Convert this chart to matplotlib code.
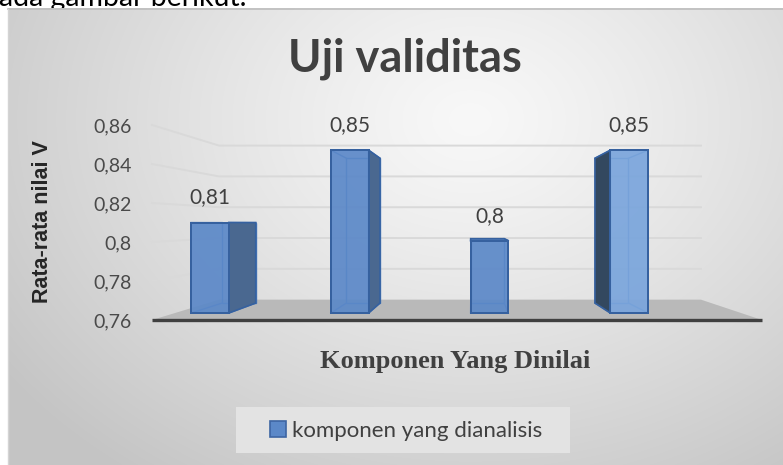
import numpy as np
import matplotlib
matplotlib.use("Agg")
import matplotlib.pyplot as plt
from matplotlib.patches import Polygon, Rectangle, Patch

# --- data ---
values = [0.81, 0.85, 0.80, 0.85]
value_labels = ["0,81", "0,85", "0,8", "0,85"]
y_ticks = [0.76, 0.78, 0.80, 0.82, 0.84, 0.86]
y_tick_labels = ["0,76", "0,78", "0,8", "0,82", "0,84", "0,86"]
series_name = "komponen yang dianalisis"
title = "Uji validitas"
x_title = "Komponen Yang Dinilai"
y_title = "Rata-rata nilai V"
page_text = "ada gambar berikut."

# --- figure in pixel units ---
W, H = 783, 465
fig = plt.figure(figsize=(W / 100, H / 100), dpi=100)

def fx(x):
    return x / W

def fy(y):
    return 1 - y / H

# background (chart area gradient like excel)
bg = fig.add_axes([0, 0, 1, 1])
bg.set_xlim(0, W)
bg.set_ylim(H, 0)
bg.axis("off")

# text of the page above the chart (only its lower part is in the crop)
bg.text(-1, 6.0, page_text, fontsize=20.5, family="Lato", color="black",
        va="baseline", ha="left", zorder=0)

yy, xx = np.mgrid[9:H, 8:W]
d = np.sqrt(((xx - 470) / 520.0) ** 2 + ((yy - 120) / 400.0) ** 2)
d = np.clip(d, 0, 1.1)
shade = (248 - 46 * d ** 1.2) / 255.0
rgb = np.dstack([shade, shade, shade])
bg.imshow(rgb, extent=(8, W, H, 9), aspect="auto", zorder=1, interpolation="bilinear")
bg.plot([8, W], [9, 9], color="#bdbdbd", lw=1.2, zorder=2)
bg.plot([8, 8], [9, H], color="#d4d4d4", lw=1.0, zorder=2)

# legend box
bg.add_patch(Rectangle((236, 407), 334, 46, fc="#e3e3e3", ec="none", zorder=2))

# --- main plot axes (front plane of the 3d box) ---
ax = fig.add_axes([fx(152), fy(320), fx(610), 195 / H])
x0, x1 = -0.25, 3.8
y0 = y_ticks[0]
ax.set_xlim(x0, x1)
ax.set_ylim(y_ticks[0], y_ticks[-1])
ax.patch.set_visible(False)
for sp in ax.spines.values():
    sp.set_visible(False)
ax.set_xticks([])
ax.set_yticks(y_ticks)
ax.set_yticklabels(y_tick_labels)
ax.tick_params(axis="y", length=0, pad=14.5, labelsize=14, labelcolor="#4a4a4a")
for t in ax.get_yticklabels():
    t.set_family("Lato")

# perspective settings
VX, VY = 1.87, 0.8097
S_BACK = 0.79
S_FRONT, S_REAR = 0.928, 0.825
BAR_W = 0.27

def proj(x, y, s):
    return (VX + s * (x - VX), VY + s * (y - VY))

# floor
floor = [proj(x0, y0, 1), proj(x1, y0, 1), proj(x1, y0, S_BACK), proj(x0, y0, S_BACK)]
ax.add_patch(Polygon(floor, closed=True, fc="#b9b9b9", ec="none", zorder=1, clip_on=False))
ax.plot([x0, x1], [y0, y0], color="#404040", lw=2.4, solid_capstyle="butt",
        clip_on=False, zorder=2)

# wall gridlines
for v in y_ticks[1:]:
    pts = [proj(x0, v, 1), proj(x0, v, S_BACK), proj(x1, v, S_BACK)]
    ax.plot([p[0] for p in pts], [p[1] for p in pts], color="#d9d9d9", lw=1.4,
            clip_on=False, zorder=1)

# bars
edge_col = "#36619f"
for i, (v, lbl) in enumerate(zip(values, value_labels)):
    xl, xr = i - BAR_W / 2, i + BAR_W / 2
    f = [proj(xl, y0, S_FRONT), proj(xr, y0, S_FRONT), proj(xr, v, S_FRONT), proj(xl, v, S_FRONT)]
    b = [proj(xl, y0, S_REAR), proj(xr, y0, S_REAR), proj(xr, v, S_REAR), proj(xl, v, S_REAR)]

    # hidden back edges seen through the transparent front
    ax.add_patch(Polygon(b, closed=True, fill=False, ec="#4b7cc0", lw=1.0, zorder=3, clip_on=False))
    for k in range(4):
        ax.plot([f[k][0], b[k][0]], [f[k][1], b[k][1]], color="#4b7cc0", lw=1.0,
                zorder=3, clip_on=False)

    left_visible = xl > VX
    if xr < VX:
        side = [f[1], b[1], b[2], f[2]]
        ax.add_patch(Polygon(side, closed=True, fc="#4a6890", ec=edge_col, lw=1.2,
                             zorder=4, clip_on=False))
    if left_visible:
        side = [f[0], b[0], b[3], f[3]]
        ax.add_patch(Polygon(side, closed=True, fc="#33485f", ec=edge_col, lw=1.2,
                             zorder=4, clip_on=False))
    if v < VY:
        top = [f[3], f[2], b[2], b[3]]
        ax.add_patch(Polygon(top, closed=True, fc="#6f98d2", ec=edge_col, lw=1.2,
                             zorder=4, clip_on=False))

    front_col = "#7aa5dc" if left_visible else "#5b88c8"
    ax.add_patch(Polygon(f, closed=True, fc=front_col, ec=edge_col, lw=1.4, alpha=0.92,
                         zorder=5, clip_on=False))
    ax.add_patch(Polygon(f, closed=True, fill=False, ec=edge_col, lw=1.4,
                         zorder=6, clip_on=False))

    ax.annotate(lbl, xy=proj(i, v, S_FRONT), xytext=(0, 18), textcoords="offset points",
                ha="center", va="center", fontsize=15, color="#404040", family="Lato",
                zorder=7)

# titles
fig.text(fx(405), fy(72), title, ha="center", va="baseline", fontsize=32.5,
         weight="bold", color="#404040", family="Lato")
fig.text(fx(455), fy(368), x_title, ha="center", va="baseline", fontsize=19,
         weight="bold", color="#404040", family="Liberation Serif")
fig.text(fx(43), fy(222), y_title, ha="center", va="center", rotation=90,
         fontsize=15.5, weight="bold", color="#262626", family="Liberation Sans")

# legend
handle = Patch(fc="#5b88c8", ec="#3d65a3", lw=1.2, label=series_name)
leg = ax.legend(handles=[handle], loc="center left",
                bbox_to_anchor=(fx(270), fy(431)), bbox_transform=fig.transFigure,
                frameon=False, handlelength=0.7, handleheight=0.7, handletextpad=0.3,
                borderpad=0, borderaxespad=0, prop={"family": "Lato", "size": 16})
for t in leg.get_texts():
    t.set_color("#404040")

fig.savefig("out.png", dpi=100)
